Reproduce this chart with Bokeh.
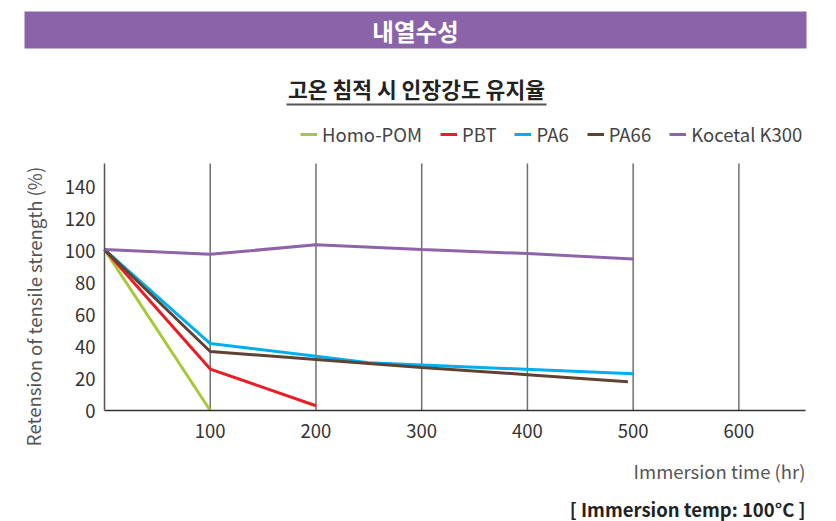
from bokeh.plotting import figure
from bokeh.models import Range1d, FixedTicker, Label, BoxAnnotation, Legend, LegendItem, LinearAxis
from bokeh.embed import file_html
from bokeh.resources import INLINE

# ---- data ----
hours_pom = [0, 100]
pom = [101, 0]
hours_pbt = [0, 100, 200]
pbt = [101, 26, 3]
hours_pa6 = [0, 100, 200, 250, 500]
pa6 = [101, 42, 34, 30, 23]
hours_pa66 = [0, 100, 200, 300, 400, 495]
pa66 = [101, 37, 32, 27, 22.5, 18]
hours_k300 = [0, 100, 200, 300, 400, 500]
k300 = [101, 98, 104, 101, 98.5, 95]
x_ticks = [100, 200, 300, 400, 500, 600]
y_ticks = [0, 20, 40, 60, 80, 100, 120, 140]
x_max = 663
y_max = 155

series = [
    ("Homo-POM", hours_pom, pom, "#a6c93a"),
    ("PBT", hours_pbt, pbt, "#ea1c24"),
    ("PA6", hours_pa6, pa6, "#00aeef"),
    ("PA66", hours_pa66, pa66, "#5e4333"),
    ("Kocetal K300", hours_k300, k300, "#8e63aa"),
]

FONT = "Noto Sans CJK KR"
FS = "18.5px"
W, H = 836, 521
# plotting area in page pixels
FL, FR, FT, FB = 104, 805, 163, 410

sx = (FR - FL) / x_max
sy = (FB - FT) / y_max
def dx(px):
    return (px - FL) / sx
def dy(py):
    return (FB - py) / sy

p = figure(width=W, height=H, output_backend="svg", toolbar_location=None,
           x_range=Range1d(dx(0), dx(W)), y_range=Range1d(dy(H), dy(0)),
           x_axis_location=None, y_axis_location=None,
           min_border_left=0, min_border_right=0, min_border_top=0, min_border_bottom=0)
p.outline_line_color = None
p.background_fill_color = "white"
p.border_fill_color = "white"
p.xgrid.visible = False
p.ygrid.visible = False

# vertical grid lines at the x ticks
p.segment(x0=x_ticks, x1=x_ticks, y0=[0] * len(x_ticks), y1=[y_max] * len(x_ticks),
          line_color="#707070", line_width=1.5)

xaxis = LinearAxis(fixed_location=0, bounds=(0, x_max), ticker=FixedTicker(ticks=x_ticks))
yaxis = LinearAxis(fixed_location=0, bounds=(0, y_max), ticker=FixedTicker(ticks=y_ticks))
for ax in (xaxis, yaxis):
    ax.major_tick_line_color = None
    ax.minor_tick_line_color = None
    ax.major_tick_out = 0
    ax.major_tick_in = 0
    ax.major_label_text_font = FONT
    ax.major_label_text_font_size = FS
    ax.major_label_text_color = "#333333"
xaxis.axis_line_color = "#333333"
xaxis.axis_line_width = 1.5
yaxis.axis_line_color = "#555555"
yaxis.axis_line_width = 1.5
xaxis.major_label_standoff = 13
yaxis.major_label_standoff = 9
p.add_layout(xaxis, "below")
p.add_layout(yaxis, "left")

items = []
for name, xs, ys, col in series:
    r = p.line(xs, ys, line_color=col, line_width=3)
    items.append(LegendItem(label=name, renderers=[r]))

legend = Legend(items=items, orientation="horizontal", location=(300, H - 147),
                label_text_font=FONT, label_text_font_size=FS, label_text_color="#444444",
                glyph_width=17, glyph_height=20, label_height=20, label_standoff=5, spacing=18,
                padding=0, margin=0, border_line_color=None, background_fill_alpha=0)
p.add_layout(legend)

# header bar
p.add_layout(BoxAnnotation(left=dx(24), right=dx(806), bottom=dy(48), top=dy(11),
                           fill_color="#8b63a9", fill_alpha=1, line_color=None))
p.add_layout(Label(x=dx(415), y=dy(30), text="내열수성", text_align="center", text_baseline="middle",
                   text_font=FONT, text_font_size="23.5px", text_font_style="bold", text_color="white"))

# title + underline
p.add_layout(Label(x=dx(416), y=dy(88), text="고온 침적 시 인장강도 유지율", text_align="center",
                   text_baseline="middle", text_font=FONT, text_font_size="21.5px",
                   text_font_style="bold", text_color="#222222"))
p.add_layout(BoxAnnotation(left=dx(286), right=dx(546), bottom=dy(105), top=dy(103),
                           fill_color="#555555", fill_alpha=1, line_color=None))

# axis labels
p.add_layout(Label(x=dx(33), y=dy(306), text="Retension of tensile strength (%)", angle=1.5707963,
                   text_align="center", text_baseline="middle", text_font=FONT,
                   text_font_size=FS, text_color="#555555"))
p.add_layout(Label(x=dx(805), y=dy(470), text="Immersion time (hr)", text_align="right",
                   text_baseline="middle", text_font=FONT, text_font_size=FS, text_color="#555555"))
p.add_layout(Label(x=dx(805), y=dy(508), text="[ Immersion temp: 100°C ]", text_align="right",
                   text_baseline="middle", text_font=FONT, text_font_size=FS,
                   text_font_style="bold", text_color="#222222"))

open("out.html", "w").write(file_html(p, INLINE))
